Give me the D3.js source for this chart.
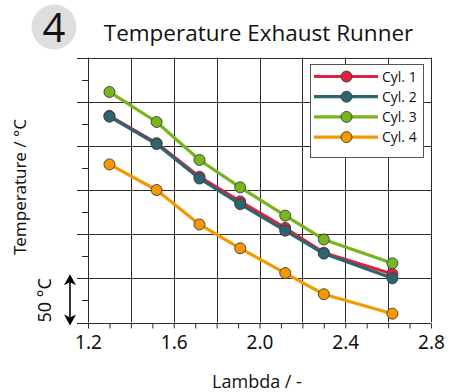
<!DOCTYPE html>
<html>
<head>
<meta charset="utf-8">
<script src="https://cdn.jsdelivr.net/npm/d3@7"></script>
<style>
  html, body { margin: 0; padding: 0; background: #fff; }
  svg { display: block; }
</style>
</head>
<body>
<svg id="chart" width="449" height="392"></svg>
<script>
// Exhaust runner temperature per cylinder over air ratio (lambda)
const lambdaValues = [1.30, 1.52, 1.72, 1.91, 2.12, 2.30, 2.62];
const cyl1 = [734, 703, 665, 637, 607, 579, 555];
const cyl2 = [733, 702, 663, 634, 604, 578, 550];
const cyl3 = [761, 727, 684, 653, 621, 594, 567];
const cyl4 = [679, 650, 611, 584, 556, 532, 510];
const seriesNames = ["Cyl. 1", "Cyl. 2", "Cyl. 3", "Cyl. 4"];
const seriesColors = ["#e0223f", "#2d6470", "#78b41e", "#f49800"];
const xTickLabels = [1.2, 1.6, 2.0, 2.4, 2.8];

const seriesValues = [cyl1, cyl2, cyl3, cyl4];
const series = seriesNames.map((name, i) => ({
  name,
  color: seriesColors[i],
  points: lambdaValues.map((l, j) => ({ x: l, y: seriesValues[i][j] }))
}));

const svg = d3.select("#chart");
const plot = { left: 88, right: 431, top: 57.5, bottom: 322.5 };

const x = d3.scaleLinear().domain([1.2, 2.8]).range([plot.left, plot.right]);
const y = d3.scaleLinear().domain([500, 800]).range([plot.bottom, plot.top]);

const gridColor = "#2a2a2a";

// Title badge and title
svg.append("circle").attr("cx", 54).attr("cy", 27).attr("r", 22.5).attr("fill", "#dedede");
svg.append("text").attr("x", 54).attr("y", 42)
  .attr("text-anchor", "middle")
  .style("font-family", "'Open Sans', sans-serif").style("font-size", "40px")
  .attr("fill", "#111").text("4");
svg.append("text").attr("x", 258.5).attr("y", 41)
  .attr("text-anchor", "middle")
  .style("font-family", "'Open Sans', sans-serif").style("font-size", "22.5px")
  .attr("fill", "#111").text("Temperature Exhaust Runner");

// Grid
const g = svg.append("g");
const vGrid = d3.range(1.2, 2.81, 0.2);
g.selectAll("line.vg").data(vGrid).join("line")
  .attr("class", "vg")
  .attr("x1", d => Math.round(x(d)) + 0.5).attr("x2", d => Math.round(x(d)) + 0.5)
  .attr("y1", plot.top).attr("y2", plot.bottom)
  .attr("stroke", gridColor).attr("stroke-width", 1);
const hGrid = d3.range(500, 801, 50);
g.selectAll("line.hg").data(hGrid).join("line")
  .attr("class", "hg")
  .attr("x1", plot.left - 11).attr("x2", plot.right)
  .attr("y1", d => Math.round(y(d)) + 0.5).attr("y2", d => Math.round(y(d)) + 0.5)
  .attr("stroke", gridColor).attr("stroke-width", 1);

// Minor y ticks
const yMinor = d3.range(525, 800, 50);
g.selectAll("line.ym").data(yMinor).join("line")
  .attr("x1", plot.left - 6).attr("x2", plot.left)
  .attr("y1", d => Math.round(y(d)) + 0.5).attr("y2", d => Math.round(y(d)) + 0.5)
  .attr("stroke", gridColor).attr("stroke-width", 1);

// X axis ticks and labels
const xAxis = d3.axisBottom(x)
  .tickValues(d3.range(1.2, 2.81, 0.1))
  .tickSize(5)
  .tickFormat(d => {
    const v = Math.round(d * 10) / 10;
    return xTickLabels.some(t => Math.abs(t - v) < 1e-6) ? v.toFixed(1) : "";
  });
const xa = svg.append("g").attr("transform", `translate(0,${Math.round(plot.bottom) + 0.5})`).call(xAxis);
xa.select(".domain").remove();
xa.selectAll(".tick line").attr("stroke", gridColor);
xa.selectAll(".tick text")
  .attr("dy", 0).attr("y", 25)
  .style("font-family", "'Noto Sans', sans-serif").style("font-size", "19px")
  .attr("fill", "#111");

// Axis titles
svg.append("text").attr("x", 257).attr("y", 388)
  .attr("text-anchor", "middle")
  .style("font-family", "'Open Sans', sans-serif").style("font-size", "18px")
  .attr("fill", "#111").text("Lambda / -");
svg.append("text")
  .attr("transform", "translate(26,187) rotate(-90)")
  .attr("text-anchor", "middle")
  .style("font-family", "'Noto Sans', sans-serif").style("font-size", "17px")
  .attr("fill", "#111").text("Temperature / °C");
svg.append("text")
  .attr("transform", `translate(51,${(y(500) + y(550)) / 2}) rotate(-90)`)
  .attr("text-anchor", "middle")
  .style("font-family", "'Noto Sans', sans-serif").style("font-size", "18px")
  .attr("fill", "#111").text("50 °C");

// 50 °C scale arrow
const ax = 70, ay1 = y(550) - 4, ay2 = y(500) + 3;
svg.append("line").attr("x1", ax).attr("x2", ax).attr("y1", ay1 + 8).attr("y2", ay2 - 8)
  .attr("stroke", "#000").attr("stroke-width", 1.6);
svg.append("path").attr("d", `M${ax},${ay1} L${ax - 6},${ay1 + 11} L${ax},${ay1 + 8} L${ax + 6},${ay1 + 11} Z`).attr("fill", "#000");
svg.append("path").attr("d", `M${ax},${ay2} L${ax - 6},${ay2 - 11} L${ax},${ay2 - 8} L${ax + 6},${ay2 - 11} Z`).attr("fill", "#000");

// Series lines and markers
const line = d3.line().x(d => x(d.x)).y(d => y(d.y));
const sg = svg.append("g");
series.forEach(s => {
  const gs = sg.append("g");
  gs.append("path").datum(s.points).attr("d", line)
    .attr("fill", "none").attr("stroke", s.color).attr("stroke-width", 3.2)
    .attr("stroke-linejoin", "round");
  gs.selectAll("circle").data(s.points).join("circle")
    .attr("cx", d => x(d.x)).attr("cy", d => y(d.y)).attr("r", 5.5)
    .attr("fill", s.color).attr("stroke", "#3a3a3a").attr("stroke-width", 0.9);
});

// Legend
const lg = svg.append("g");
lg.append("rect").attr("x", 310.5).attr("y", 64.5).attr("width", 113).attr("height", 93)
  .attr("fill", "#fff").attr("stroke", "#555").attr("stroke-width", 1);
series.forEach((s, i) => {
  const ly = 76.5 + i * 20.2;
  lg.append("line").attr("x1", 314).attr("x2", 378).attr("y1", ly).attr("y2", ly)
    .attr("stroke", s.color).attr("stroke-width", 3.2);
  lg.append("circle").attr("cx", 346.5).attr("cy", ly).attr("r", 5.5)
    .attr("fill", s.color).attr("stroke", "#3a3a3a").attr("stroke-width", 0.9);
  lg.append("text").attr("x", 382).attr("y", ly + 5)
    .style("font-family", "'Open Sans', sans-serif").style("font-size", "14px")
    .attr("fill", "#111").text(s.name);
});
</script>
</body>
</html>
